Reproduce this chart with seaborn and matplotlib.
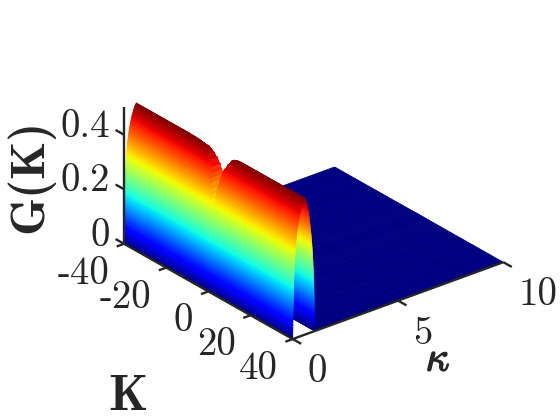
import numpy as np
import seaborn as sns
import matplotlib
matplotlib.use('Agg')
import matplotlib.pyplot as plt
import matplotlib.patheffects as pe
from mpl_toolkits.mplot3d import proj3d

# values
K_values = [-40, -30, -20, -15, -10, -8, -6, -5, -4, -3, -2, -1.5, -1.25, -1, -0.75, -0.5, -0.25, 0, 0.25, 0.5, 0.75, 1,
            1.25, 1.5, 1.75, 2, 2.25, 2.5, 3, 3.5, 4, 5, 6, 7, 8, 10, 15, 20, 25, 30, 40]
ridge_top = [0.5, 0.5, 0.5, 0.5, 0.498, 0.495, 0.49, 0.485, 0.475, 0.46, 0.44, 0.42, 0.405, 0.39, 0.37, 0.35, 0.335, 0.32, 0.305, 0.29, 0.28, 0.27,
             0.285, 0.30, 0.32, 0.345, 0.37, 0.39, 0.42, 0.44, 0.455, 0.475, 0.49, 0.495, 0.498, 0.5, 0.5, 0.5, 0.5, 0.5, 0.5]

G_rise = [0, 0.01, 0.02, 0.03, 0.04, 0.05, 0.06, 0.07, 0.08, 0.09,
          0.10, 0.105, 0.11, 0.115, 0.12, 0.125, 0.13, 0.135, 0.14, 0.145, 0.15, 0.155, 0.16, 0.165, 0.17, 0.175,
          0.18, 0.185, 0.19, 0.195, 0.20, 0.205, 0.21, 0.215, 0.22, 0.225, 0.23, 0.235, 0.24, 0.245, 0.25, 0.255,
          0.26, 0.265, 0.27, 0.275, 0.28, 0.285, 0.29, 0.295, 0.30, 0.305, 0.31, 0.315, 0.32, 0.325, 0.33, 0.335,
          0.34, 0.345, 0.35, 0.355, 0.36, 0.365, 0.37, 0.375, 0.38, 0.385, 0.39, 0.395, 0.40, 0.405, 0.41, 0.415,
          0.42, 0.425, 0.43, 0.435, 0.44, 0.445, 0.45, 0.455, 0.46, 0.465, 0.47, 0.475, 0.48, 0.485, 0.49, 0.495, 0.50]
kappa_rise = [0, 0.002, 0.003, 0.005, 0.006, 0.008, 0.01, 0.012, 0.013, 0.015,
              0.017, 0.018, 0.02, 0.021, 0.022, 0.024, 0.025, 0.026, 0.027, 0.029, 0.03, 0.032, 0.033, 0.035, 0.036, 0.038,
              0.04, 0.042, 0.044, 0.046, 0.048, 0.05, 0.052, 0.054, 0.056, 0.058, 0.06, 0.062, 0.065, 0.067, 0.07, 0.072,
              0.075, 0.077, 0.08, 0.083, 0.086, 0.09, 0.093, 0.096, 0.1, 0.103, 0.107, 0.111, 0.115, 0.12, 0.125, 0.13,
              0.135, 0.141, 0.147, 0.153, 0.16, 0.167, 0.175, 0.182, 0.19, 0.198, 0.207, 0.216, 0.225, 0.236, 0.247, 0.258,
              0.27, 0.282, 0.295, 0.307, 0.32, 0.335, 0.35, 0.365, 0.38, 0.40, 0.42, 0.44, 0.46, 0.485, 0.51, 0.54, 0.58]
G_fall = [0.50, 0.49, 0.48, 0.47, 0.46, 0.45, 0.44, 0.43, 0.42, 0.41, 0.40, 0.39, 0.38, 0.37, 0.36, 0.35, 0.34,
          0.33, 0.32, 0.31, 0.30, 0.29, 0.28, 0.27, 0.26, 0.25, 0.24, 0.23, 0.22, 0.21, 0.20, 0.19, 0.18, 0.17,
          0.16, 0.15, 0.14, 0.13, 0.12, 0.11, 0.10, 0.09, 0.08, 0.07, 0.06, 0.05, 0.04, 0.03, 0.02, 0.01, 0]
kappa_fall = [0.58, 0.63, 0.665, 0.69, 0.715, 0.735, 0.755, 0.77, 0.785, 0.80, 0.815, 0.83, 0.84, 0.855, 0.87,
              0.88, 0.89, 0.90, 0.91, 0.92, 0.928, 0.936, 0.943, 0.95, 0.957, 0.963, 0.969, 0.975, 0.98, 0.985,
              0.99, 0.994, 0.998, 1.002, 1.006, 1.01, 1.013, 1.016, 1.019, 1.022, 1.025, 1.027, 1.03, 1.032,
              1.034, 1.036, 1.037, 1.038, 1.039, 1.04, 1.042]
kappa_floor = [1.042, 10]
G_floor = [0, 0]

K_ticks = [-40, -20, 0, 20, 40]
kappa_ticks = [0, 5, 10]
G_ticks = [0, 0.2, 0.4]
G_tick_labels = ['0', '0.2', '0.4']

sns.set_style('white')
plt.rcParams['font.family'] = ['cmr10', 'DejaVu Sans']
plt.rcParams['mathtext.fontset'] = 'cm'
plt.rcParams['axes.unicode_minus'] = False
plt.rcParams['axes.formatter.use_mathtext'] = True
ink = '#262626'
jet = matplotlib.colormaps['jet']

fig = plt.figure(figsize=(5.6, 4.2), dpi=100)
ax = fig.add_axes([28 / 560, 19.5 / 420, 1, 1], projection='3d', proj_type='ortho', computed_zorder=False)
ax.view_init(elev=27, azim=-38.8)
ax.set_box_aspect((271, 272, 154), zoom=0.95)
ax.set_xlim(-40, 40, view_margin=0)
ax.set_ylim(0, 10, view_margin=0)
ax.set_zlim(0, 0.5, view_margin=0)
ax.set_axis_off()


def sheet(kappa, G, order):
    X, Y = np.meshgrid(K_values, kappa, indexing='ij')
    Z = np.minimum.outer(np.array(ridge_top), np.array(G))
    surf = ax.plot_surface(X, Y, Z, rstride=1, cstride=1, cmap=jet, vmin=0, vmax=0.5, shade=False,
                           linewidth=0.5, antialiased=True, zorder=order)
    surf.set_edgecolor('face')


sheet(kappa_floor, G_floor, 1)
sheet(kappa_fall, G_fall, 2)
sheet(kappa_rise, G_rise, 3)

# box lines and ticks
line = dict(color=ink, lw=1.7, zorder=5, solid_capstyle='butt')
ax.plot([-40, 40], [0, 0], [0, 0], **line)
ax.plot([40, 40], [0, 10], [0, 0], **line)
ax.plot([-40, -40], [0, 0], [0, 0.5], **line)
for k in K_ticks:
    ax.plot([k, k], [0, -0.35], [0, 0], **line)
for k in kappa_ticks:
    ax.plot([40, 44], [k, k], [0, 0], **line)
for g in G_ticks:
    ax.plot([-40, -44], [0, 0], [g, g], **line)


def label(x, y, z, s, dx, dy, **kw):
    px, py, _ = proj3d.proj_transform(x, y, z, ax.get_proj())
    return ax.annotate(s, (px, py), xytext=(dx, dy), textcoords='offset pixels', color=ink,
                       annotation_clip=False, **kw)


for k in K_ticks:
    label(k, 0, 0, str(k), -15, -30, ha='right', va='center', fontsize=28)
for k in kappa_ticks:
    label(40, k, 0, str(k), 15, -33, ha='left', va='center', fontsize=28)
for g, s in zip(G_ticks, G_tick_labels):
    label(-40, 0, g, s, -14, 8, ha='right', va='center', fontsize=28)

fig.text(128 / 560, 1 - 397 / 420, 'K', family='cmb10', fontsize=36, color=ink, ha='center', va='center')
fig.text(30 / 560, 1 - 176 / 420, 'G(K)', family='cmb10', fontsize=35, color=ink, rotation=90,
         ha='center', va='center')
kap = fig.text(438 / 560, 1 - 360 / 420, r'$\kappa$', fontsize=30, color=ink, ha='center', va='center')
kap.set_path_effects([pe.withStroke(linewidth=1.0, foreground=ink)])

fig.savefig('out.png', dpi=100)
